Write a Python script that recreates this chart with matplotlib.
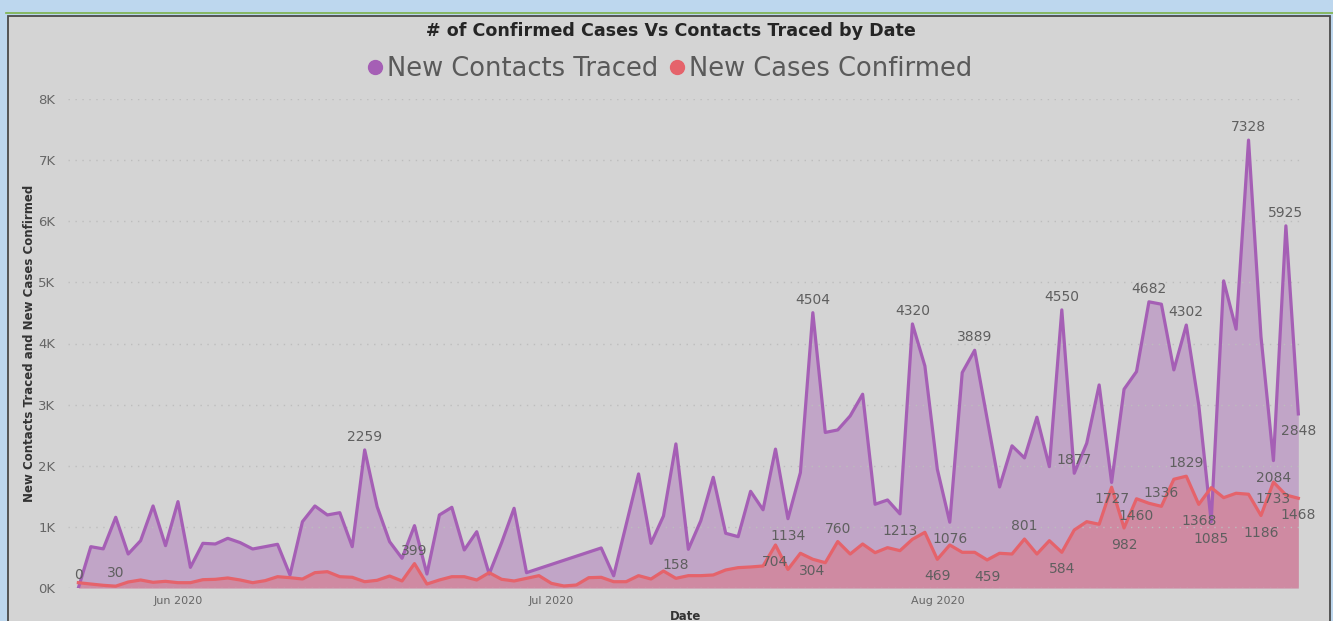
import pandas as pd
import matplotlib
matplotlib.use('Agg')
import matplotlib.pyplot as plt
import matplotlib.dates as mdates
from matplotlib.lines import Line2D
from matplotlib.patches import Rectangle

# one row per day, 24 May - 30 Aug 2020 (None = no value reported that day)
dates = pd.date_range('2020-05-24', '2020-08-30', freq='D')

contacts = [0, 676, 640, 1157, 556, 774, 1342, 693, 1413, 338,
            731, 720, 813, 742, 638, 676, 715, 213, 1085, 1342,
            1195, 1232, 676, 2259, 1331, 758, 486, 1020, 229, 1195,
            1320, 622, 921, 229, 742, 1304, 251, None, None, None,
            None, None, 655, 200, None, 1866, 731, 1178, 2357, 633,
            1101, 1811, 895, 840, 1582, 1280, 2272, 1134, 1887, 4504,
            2545, 2586, 2815, 3170, 1370, 1440, 1213, 4320, 3633, 1943,
            1076, 3524, 3889, None, 1653, 2326, 2128, 2794, 1985, 4550,
            1877, 2368, 3322, 1727, 3252, 3540, 4682, 4643, 3568, 4302,
            2995, 1085, 5025, 4234, 7328, 4113, 2084, 5925, 2848]

cases = [87, 65, 44, 30, 98, 131, 93, 109, 87, 87,
         136, 142, 164, 131, 87, 120, 185, 169, 147, 251,
         267, 185, 175, 103, 126, 196, 115, 399, 65, 131,
         185, 185, 131, 251, 142, 115, 158, 202, 76, 33,
         49, 169, 175, 103, 103, 202, 147, 278, 158, 202,
         202, 213, 295, 333, 344, 360, 704, 304, 568, 470,
         414, 760, 556, 720, 578, 660, 611, 797, 911, 469,
         704, 584, 584, 459, 568, 556, 801, 556, 774, 584,
         949, 1085, 1043, 1648, 982, 1460, 1386, 1336, 1779, 1829,
         1368, 1642, 1478, 1550, 1534, 1186, 1733, 1522, 1468]

# which points carry a data label (day index)
contact_labels = [0, 23, 57, 59, 66, 67, 70, 72, 79, 80, 83, 86, 89, 91, 94, 96, 97, 98]
case_labels = [3, 27, 48, 56, 57, 61, 69, 73, 76, 79, 84, 85, 87, 89, 90, 95, 96, 98]

# label placement, pixel offsets (dx, dy) from the point
ABOVE, BELOW = (0, 13), (0, -17)
contact_pos = {57: BELOW, 66: BELOW, 70: BELOW, 83: BELOW, 91: BELOW, 96: BELOW, 98: BELOW}
case_pos = {56: BELOW, 57: (24, -2), 69: BELOW, 73: BELOW, 79: BELOW, 84: BELOW, 85: BELOW,
            90: BELOW, 95: BELOW, 96: BELOW, 98: BELOW}

purple = '#A55FB5'
red = '#E5636B'
bg = '#D4D4D4'
font = 'DejaVu Sans'

df = pd.DataFrame({'date': dates, 'contacts': contacts, 'cases': cases})
df['contacts'] = df['contacts'].astype(float)
cdf = df.dropna(subset=['contacts'])

fig = plt.figure(figsize=(13.33, 6.21), dpi=100, facecolor='#BDD7EE')
# report card behind everything
fig.patches.append(Rectangle((8 / 1333, -0.05), 1322 / 1333, (621 - 16) / 621 + 0.05,
                             transform=fig.transFigure, facecolor=bg, edgecolor='#4A4A4A',
                             linewidth=1.3, zorder=-5))
fig.add_artist(Line2D([6 / 1333, 1], [1 - 13 / 621] * 2, transform=fig.transFigure,
                      color='#7DB24A', linewidth=1.2, zorder=-4))

ax = fig.add_axes([68 / 1333, 33 / 621, 1235 / 1333, 489 / 621], zorder=2)
ax.set_facecolor('none')

ax.fill_between(cdf['date'], cdf['contacts'], color=purple, alpha=0.4, linewidth=0)
ax.plot(cdf['date'], cdf['contacts'], color=purple, linewidth=2.3)
ax.fill_between(df['date'], df['cases'], color=red, alpha=0.4, linewidth=0)
ax.plot(df['date'], df['cases'], color=red, linewidth=2.3)

lab_kw = dict(textcoords='offset pixels', ha='center', va='center', fontsize=10,
              color='#5F5F5F', family=font)
for i in contact_labels:
    ax.annotate(str(contacts[i]), (dates[i], contacts[i]),
                xytext=contact_pos.get(i, ABOVE), **lab_kw)
for i in case_labels:
    ax.annotate(str(cases[i]), (dates[i], cases[i]),
                xytext=case_pos.get(i, ABOVE), **lab_kw)

ax.set_ylim(0, 8000)
ax.set_xlim(dates[0] - pd.Timedelta(hours=20), dates[-1] + pd.Timedelta(hours=9))
ax.set_yticks(range(0, 8001, 1000))
ax.set_yticklabels([f'{k}K' for k in range(9)], family=font, fontsize=9.5, color='#666666')
ax.set_xticks(pd.to_datetime(['2020-06-01', '2020-07-01', '2020-08-01']))
ax.xaxis.set_major_formatter(mdates.DateFormatter('%b %Y'))
for t in ax.get_xticklabels():
    t.set_family(font)
    t.set_fontsize(8)
    t.set_color('#666666')
ax.tick_params(length=0, pad=6)
ax.tick_params(axis='y', pad=9)
ax.grid(axis='y', linestyle=(0, (1, 4)), color='#BDBDBD', linewidth=1)
for s in ax.spines.values():
    s.set_visible(False)

ax.set_ylabel('New Contacts Traced and New Cases Confirmed', family=font,
              fontweight='bold', fontsize=8.5, color='#333333', labelpad=2)
ax.set_xlabel('Date', family=font, fontweight='bold', fontsize=8.5,
              color='#333333', labelpad=3)

fig.text(0.503, 1 - 31 / 621, '# of Confirmed Cases Vs Contacts Traced by Date',
         ha='center', va='center', fontsize=12.6, fontweight='bold', color='#252525',
         family=font)

handles = [Line2D([], [], marker='o', linestyle='none', markersize=10, color=purple),
           Line2D([], [], marker='o', linestyle='none', markersize=10, color=red)]
fig.legend(handles, ['New Contacts Traced', 'New Cases Confirmed'], loc='center',
           bbox_to_anchor=(0.501, 1 - 69 / 621), ncol=2, frameon=False, handletextpad=0.0,
           columnspacing=0.3, handlelength=0.9,
           prop={'family': font, 'size': 18.5}, labelcolor='#5A5A5A')

fig.savefig('out.png', dpi=100, facecolor=fig.get_facecolor())
